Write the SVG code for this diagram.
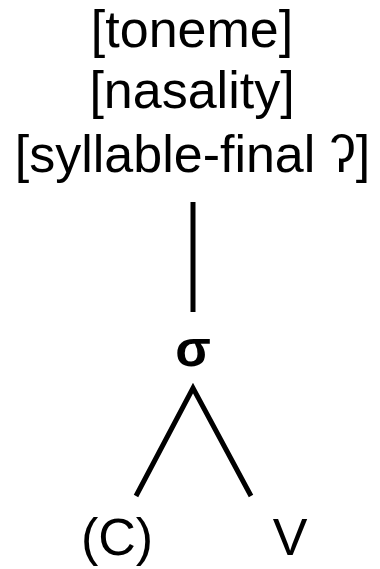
<svg xmlns="http://www.w3.org/2000/svg" width="380" height="569" viewBox="0 0 380 569">
<style>
.t{font-family:"Liberation Sans",Arial,sans-serif;font-size:52px;fill:#000;text-anchor:middle}
.b{font-weight:bold}
.e{stroke:#000;stroke-width:5;fill:none}
</style>
<rect width="380" height="569" fill="#fff"/>
<g id="features">
<text class="t" x="192" y="47">[toneme]</text>
<text class="t" x="192" y="108">[nasality]</text>
<text class="t" x="192.5" y="172">[syllable-final ʔ]</text>
</g>
<g id="sigma"><text class="t b" x="193" y="366">σ</text></g>
<g id="C"><text class="t" x="117" y="555">(C)</text></g>
<g id="V"><text class="t" x="290" y="555">V</text></g>
<g id="connectors">
<line class="e" x1="193" y1="202" x2="193" y2="312"/>
<polyline class="e" points="136,496 193,388 251,496"/>
</g>
</svg>
